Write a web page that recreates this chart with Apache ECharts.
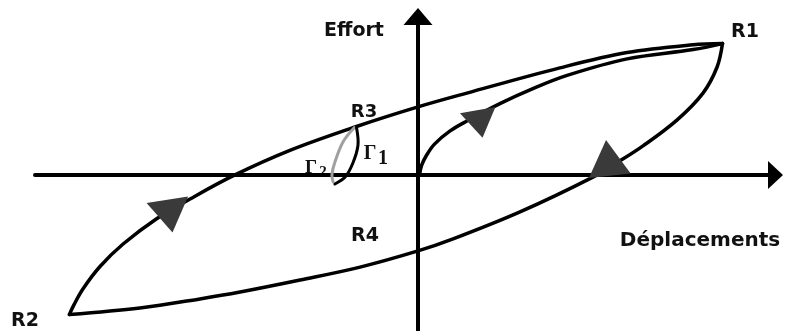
<!DOCTYPE html>
<html>
<head>
<meta charset="utf-8">
<script src="https://cdn.jsdelivr.net/npm/echarts@6/dist/echarts.min.js"></script>
<style>
  html, body { margin: 0; padding: 0; background: #fff; }
  #chart { width: 785px; height: 331px; }
</style>
</head>
<body>
<div id="chart"></div>
<script>
  // courbe de premier chargement : origine -> R1
  var firstLoading = [
    [0.05, 0], [0.12, 0.32], [0.28, 0.65], [0.55, 1.03], [1.07, 1.47], [1.63, 1.8],
    [2.73, 2.38], [3.83, 2.88], [4.97, 3.32], [6.97, 3.87], [9.17, 4.18], [10.15, 4.38]
  ]
  // branche de déchargement : R1 -> R2 (passe par R3)
  var unloading = [
    [10.15, 4.38], [9.17, 4.34], [6.97, 4.08], [4.73, 3.57], [1.63, 2.73], [0, 2.27],
    [-2.1, 1.6], [-4.27, 0.82], [-6.17, -0.03], [-7.6, -0.8], [-8.7, -1.45],
    [-9.83, -2.3], [-10.6, -3.05], [-11.17, -3.8], [-11.47, -4.33], [-11.62, -4.65]
  ]
  // branche de rechargement : R2 -> R1 (passe par R4)
  var reloading = [
    [-11.62, -4.65], [-9.27, -4.43], [-7.27, -4.13], [-5.93, -3.9], [-3.93, -3.5],
    [-1.93, -3.07], [0, -2.53], [1.17, -2.13], [3.4, -1.23], [5.83, -0.07],
    [6.73, 0.47], [7.5, 0.97], [8.63, 1.83], [9.5, 2.73], [9.97, 3.6], [10.15, 4.38]
  ]
  // petites boucles internes depuis R3
  var gamma1 = [[-2.05, 1.58], [-2.0, 1.0], [-2.17, 0.4], [-2.43, -0.07], [-2.77, -0.3]]
  var gamma2 = [[-2.12, 1.58], [-2.5, 1.1], [-2.77, 0.43], [-2.87, 0], [-2.83, -0.23]]
  // flèches sur les branches
  var arrowAt = [[2.07, 1.7], [-8.27, -1.37], [6.33, 0.57]]
  var arrowLook = [
    { rot: 190, size: [36, 28] },
    { rot: 189, size: [42, 33] },
    { rot: 6, size: [42, 36] }
  ]

  var txtFont = 'DejaVu Sans'
  function label (text, x, y, size) {
    return {
      type: 'text',
      x: x,
      y: y,
      style: {
        text: text,
        fill: '#111',
        font: 'bold ' + (size || 19) + 'px "' + txtFont + '"',
        textAlign: 'center',
        textVerticalAlign: 'middle'
      }
    }
  }
  function serif (text, x, y, size, color) {
    return {
      type: 'text',
      x: x,
      y: y,
      style: {
        text: text,
        fill: color || '#111',
        font: 'bold ' + size + 'px "Liberation Serif"',
        textAlign: 'center',
        textVerticalAlign: 'middle'
      }
    }
  }

  // une courbe lissée tracée d'un seul trait à partir des points de la série
  function curve (name, data, color, width) {
    return {
      name: name,
      type: 'custom',
      coordinateSystem: 'cartesian2d',
      data: data,
      encode: { x: 0, y: 1 },
      silent: true,
      z: 3,
      renderItem: function (params, api) {
        if (params.dataIndex !== 0) return null
        var pts = []
        for (var i = 0; i < params.dataInsideLength; i++) {
          pts.push(api.coord([api.value(0, i), api.value(1, i)]))
        }
        return {
          type: 'polyline',
          shape: { points: pts, smooth: 0.35 },
          style: { fill: null, stroke: color, lineWidth: width, lineJoin: 'round', lineCap: 'round' }
        }
      }
    }
  }

  var chart = echarts.init(document.getElementById('chart'))
  var option = {
    animation: false,
    backgroundColor: '#fff',
    grid: { left: 35, right: 9.5, top: 16.5, bottom: 0 },
    xAxis: {
      type: 'value',
      min: -12.7667,
      max: 11.9167,
      axisLine: {
        onZero: true,
        lineStyle: { color: '#000', width: 4 },
        symbol: ['none', 'triangle'],
        symbolSize: [28, 15]
      },
      axisTick: { show: false },
      axisLabel: { show: false },
      splitLine: { show: false }
    },
    yAxis: {
      type: 'value',
      min: -5.2,
      max: 5.2833,
      axisLine: {
        onZero: true,
        lineStyle: { color: '#000', width: 4 },
        symbol: ['none', 'triangle'],
        symbolSize: [29, 17]
      },
      axisTick: { show: false },
      axisLabel: { show: false },
      splitLine: { show: false }
    },
    series: [
      curve('premier chargement', firstLoading, '#000', 3.5),
      curve('déchargement', unloading, '#000', 3.5),
      curve('rechargement', reloading, '#000', 3.5),
      curve('Γ2', gamma2, '#a0a0a0', 3),
      curve('Γ1', gamma1, '#000', 3),
      {
        type: 'scatter',
        z: 5,
        data: arrowAt.map(function (p, i) {
          return {
            value: p,
            symbolRotate: arrowLook[i].rot,
            symbolSize: arrowLook[i].size
          }
        }),
        symbol: 'triangle',
        itemStyle: { color: '#3a3a3a', opacity: 1 }
      }
    ],
    graphic: [
      label('Effort', 354, 31),
      label('R1', 745, 32),
      label('R2', 25, 321),
      label('R3', 364, 112, 18),
      label('R4', 365, 236),
      label('Déplacements', 700, 241, 20),
      serif('Γ', 370, 154, 20),
      serif('1', 383, 159, 20),
      serif('Γ', 311, 168, 19),
      serif('2', 323, 172, 15)
    ]
  }
  chart.setOption(option, true)
</script>
</body>
</html>
